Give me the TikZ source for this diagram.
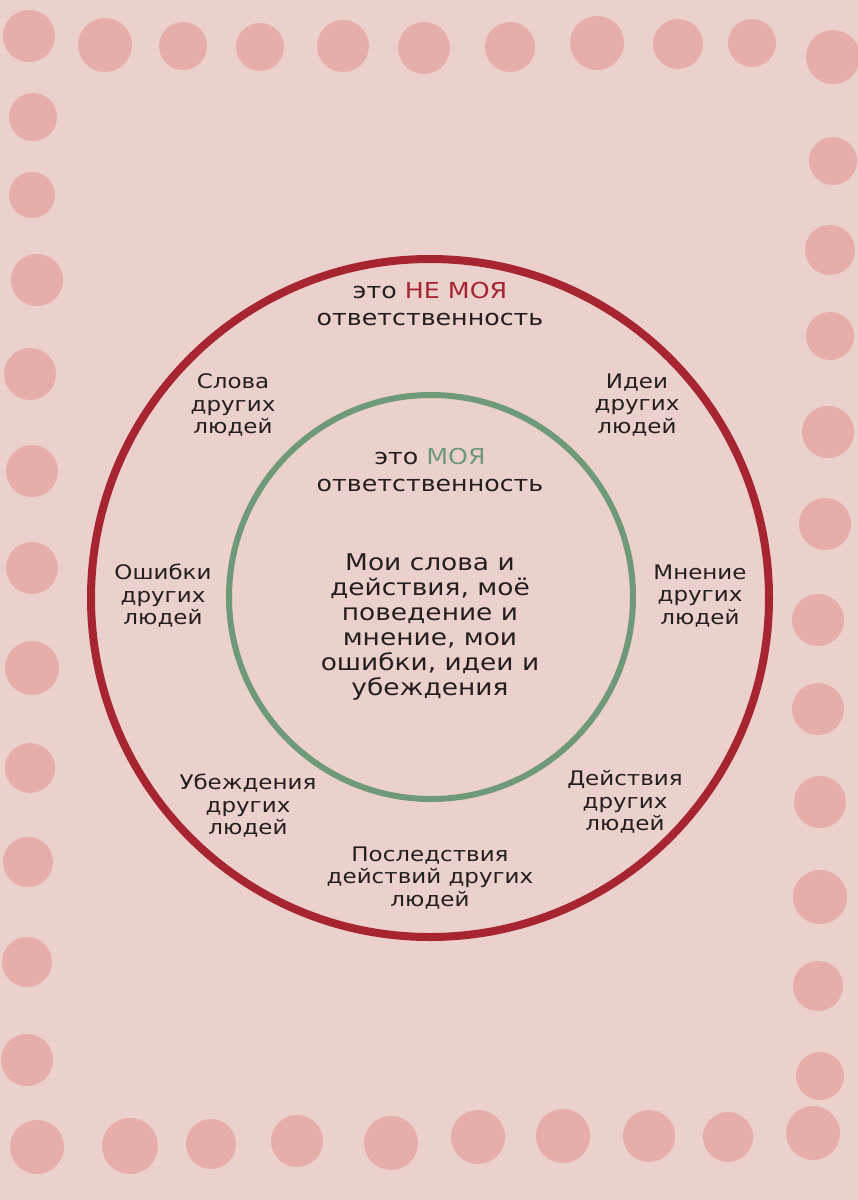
\documentclass[tikz,border=0pt]{standalone}
\usepackage{fontspec}
\setmainfont[FakeStretch=1.15]{DejaVu Sans}
\definecolor{paper}{HTML}{EBD0CC}
\definecolor{blob}{HTML}{E7ADA8}
\definecolor{ringred}{HTML}{A62530}
\definecolor{ringgreen}{HTML}{6E9A7A}
\definecolor{ink}{HTML}{231F20}
\tikzset{
  sidetext/.style={align=center, text=ink, font=\fontsize{20}{22.5}\selectfont},
  toptext/.style={align=center, text=ink, font=\fontsize{22}{27.5}\selectfont},
  coretext/.style={align=center, text=ink, font=\fontsize{23}{25}\selectfont},
}
\begin{document}
\begin{tikzpicture}[x=1pt,y=-1pt]
\fill[paper] (0,0) rectangle (858,1200);
\useasboundingbox (0,0) rectangle (858,1200);

% border of dots
\foreach \x/\y/\r in {29/36/26, 105/45/27, 183/46/24, 260/47/24, 343/46/26, 424/48/26,
  510/47/25, 597/43/27, 678/44/25, 752/43/24, 833/57/27,
  33/117/24, 32/195/23, 37/280/26, 30/374/26, 32/471/26, 32/568/26, 32/668/27,
  30/768/25, 28/862/25, 27/962/25, 27/1060/26,
  833/161/24, 830/250/25, 830/336/24, 828/432/26, 825/524/26, 818/620/26,
  818/709/26, 820/802/26, 820/897/27, 818/986/25, 820/1076/24,
  37/1147/27, 130/1146/28, 211/1144/25, 297/1141/26, 391/1143/27, 478/1137/27,
  563/1136/27, 649/1136/26, 728/1137/25, 813/1133/27}
  \fill[blob] (\x,\y) circle (\r pt);

\draw[ringred, line width=8pt] (430,598) circle (339pt);
\draw[ringgreen, line width=6pt] (431,597) circle (202pt);

\node[toptext] (notmine) at (430,304) {это \textcolor{ringred}{НЕ МОЯ}\\ответственность};
\node[toptext] (mine) at (430,470) {это \textcolor{ringgreen}{МОЯ}\\ответственность};
\node[coretext] (core) at (430,627) {Мои слова и\\действия, моё\\поведение и\\мнение, мои\\ошибки, идеи и\\убеждения};

\node[sidetext] (words) at (233,405) {Слова\\других\\людей};
\node[sidetext] (ideas) at (637,405) {Идеи\\других\\людей};
\node[sidetext] (errors) at (163,596) {Ошибки\\других\\людей};
\node[sidetext] (opinion) at (700,596) {Мнение\\других\\людей};
\node[sidetext] (beliefs) at (248,806) {Убеждения\\других\\людей};
\node[sidetext] (acts) at (625,802) {Действия\\других\\людей};
\node[sidetext] (results) at (430,878) {Последствия\\действий других\\людей};
\end{tikzpicture}
\end{document}
